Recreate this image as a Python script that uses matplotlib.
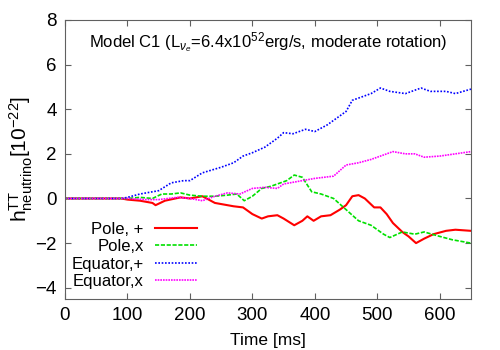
import matplotlib
matplotlib.use("Agg")
import matplotlib.pyplot as plt

plt.rcParams['font.family'] = ['Liberation Sans', 'DejaVu Sans']
plt.rcParams['mathtext.fontset'] = 'custom'
plt.rcParams['mathtext.rm'] = 'Liberation Sans'
plt.rcParams['mathtext.it'] = 'Liberation Sans:italic'

# Pole, +
t_pp = [0, 90, 100, 120, 140, 145, 160, 185, 200, 220, 240, 260, 270, 285, 300, 315, 325,
        340, 350, 367, 380, 388, 398, 410, 425, 440, 450, 460, 470, 480, 495, 505, 515,
        525, 540, 550, 562, 575, 590, 610, 625, 650]
h_pp = [0, 0, -0.05, -0.1, -0.2, -0.3, -0.1, 0.05, 0.0, 0.1, -0.2, -0.3, -0.35, -0.4,
        -0.7, -0.9, -0.8, -0.75, -0.9, -1.2, -1.0, -0.8, -1.0, -0.8, -0.75, -0.5, -0.3,
        0.1, 0.15, 0.0, -0.4, -0.4, -0.7, -1.1, -1.5, -1.7, -2.0, -1.8, -1.6, -1.45, -1.4, -1.45]

# Pole, x
t_px = [0, 100, 120, 140, 155, 170, 185, 200, 220, 240, 260, 275, 287, 300, 315, 330,
        345, 355, 367, 380, 395, 410, 430, 450, 470, 490, 510, 520, 540, 560, 575, 600, 620, 650]
h_px = [0, 0, 0.05, 0.0, 0.2, 0.2, 0.25, 0.15, 0.1, 0.1, 0.15, 0.2, -0.1, 0.1, 0.45, 0.55,
        0.7, 0.8, 1.05, 0.95, 0.3, 0.2, 0.0, -0.5, -1.0, -1.2, -1.6, -1.75, -1.5, -1.6,
        -1.5, -1.7, -1.85, -2.0]

# Equator, +
t_ep = [0, 90, 100, 120, 150, 170, 190, 200, 220, 250, 270, 285, 300, 320, 340, 350, 365,
        385, 400, 420, 440, 450, 460, 475, 490, 505, 520, 545, 570, 585, 610, 625, 650]
h_ep = [0, 0, 0.05, 0.2, 0.35, 0.7, 0.8, 0.8, 1.15, 1.4, 1.6, 1.9, 2.05, 2.3, 2.7, 2.95,
        2.9, 3.1, 3.0, 3.3, 3.7, 3.9, 4.4, 4.55, 4.7, 4.95, 4.8, 4.7, 4.95, 4.8, 4.8, 4.7, 4.9]

# Equator, x
t_ex = [0, 100, 130, 150, 180, 200, 220, 240, 260, 280, 300, 320, 340, 350, 380, 400,
        430, 450, 470, 490, 510, 525, 545, 560, 575, 600, 625, 650]
h_ex = [0, 0, -0.05, -0.05, 0.05, 0.0, -0.1, 0.1, 0.25, 0.2, 0.45, 0.5, 0.45, 0.65, 0.8,
        0.9, 1.0, 1.5, 1.6, 1.75, 1.95, 2.1, 2.0, 2.0, 1.85, 1.9, 2.0, 2.1]

fig = plt.figure(figsize=(5, 3.5), dpi=100)
ax = fig.add_axes([0.13, 0.146, 0.812, 0.797])

ax.plot(t_pp, h_pp, color='#ff0000', lw=1.5, label='Pole, +')
ax.plot(t_px, h_px, color='#00e000', lw=1.2, ls=(0, (2.5, 1)), label='Pole,x')
ax.plot(t_ep, h_ep, color='#0000ff', lw=1.2, ls=(0, (1, 1)), label='Equator,+')
ax.plot(t_ex, h_ex, color='#ff00ff', lw=1.2, ls=(0, (1, 0.6)), label='Equator,x')

ax.set_xlim(0, 650)
ax.set_ylim(-4.5, 8)
ax.set_yticks([-4, -2, 0, 2, 4, 6, 8])
ax.set_xticks([0, 100, 200, 300, 400, 500, 600])
ax.tick_params(direction='in', top=True, right=True, labelsize=13.5, length=4,
               color='#606060', pad=6)
for sp in ax.spines.values():
    sp.set_edgecolor('#606060')

ax.set_xlabel('Time [ms]', fontsize=12.5, labelpad=6)
ax.set_ylabel(r'h$^{\mathrm{TT}}_{\mathrm{neutrino}}$[10$^{-22}$]', fontsize=15, labelpad=0)

ax.text(0.5, 0.92, r'Model C1 (L$_{\nu_e}$=6.4x10$^{52}$erg/s, moderate rotation)',
        transform=ax.transAxes, ha='center', va='center', fontsize=12)

ax.legend(loc='lower left', bbox_to_anchor=(-0.025, -0.025), frameon=False, markerfirst=False,
          alignment='right', fontsize=12, handlelength=2.5, labelspacing=0.15,
          handletextpad=0.7, borderaxespad=0.6)

fig.savefig('out.png', dpi=100)
